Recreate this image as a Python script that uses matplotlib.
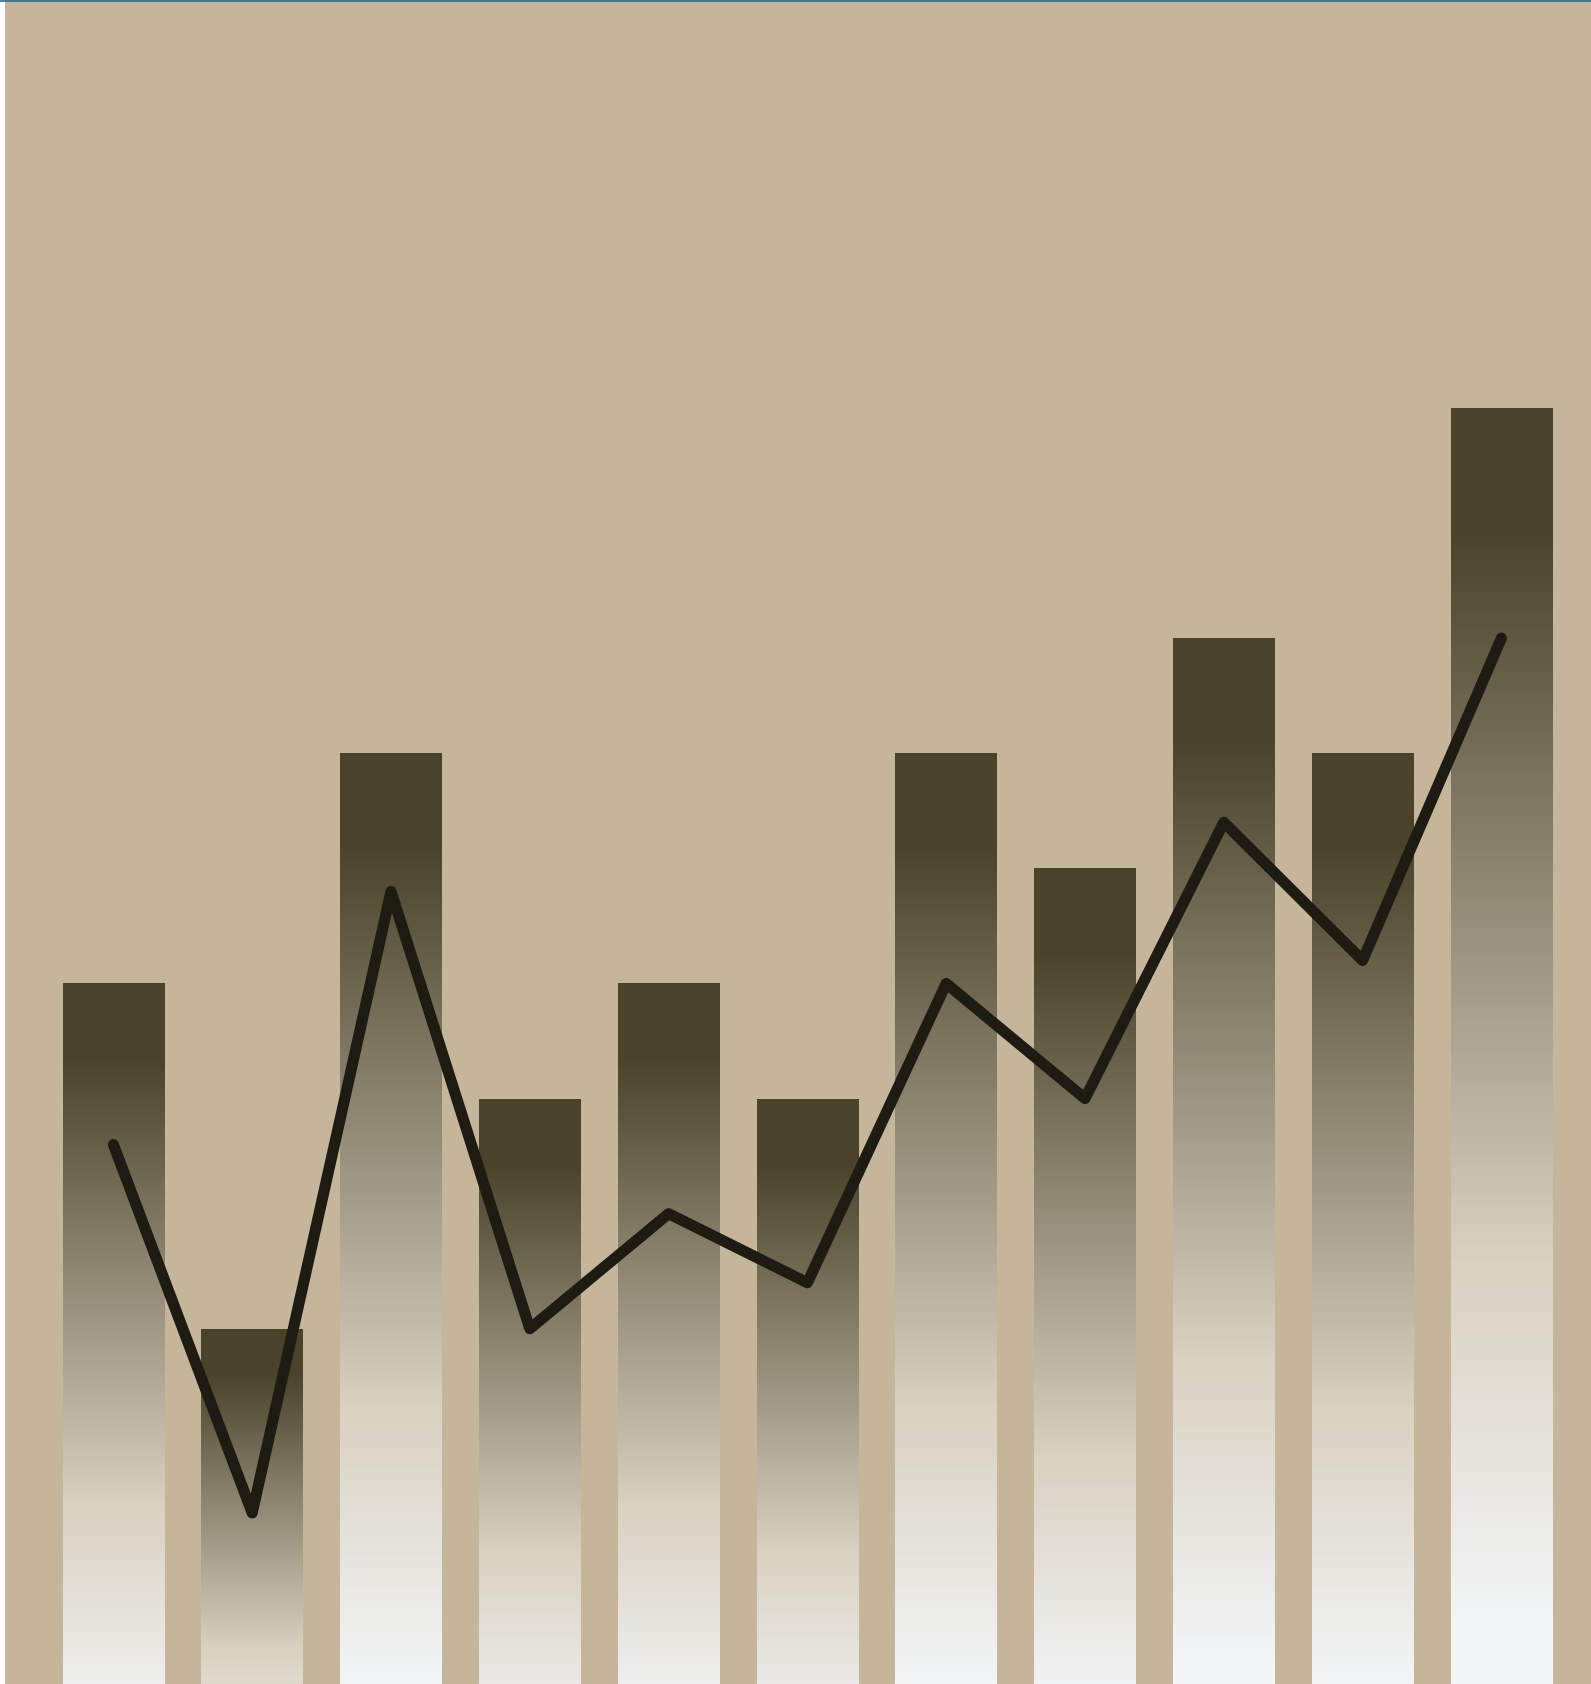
import numpy as np
import matplotlib
matplotlib.use("Agg")
import matplotlib.pyplot as plt
from matplotlib.colors import LinearSegmentedColormap
from matplotlib.patches import Rectangle
from matplotlib.lines import Line2D

# ---- data ----
categories = ["1", "2", "3", "4", "5", "6", "7", "8", "9", "10", "11"]
bar_values = [39, 24, 49, 34, 39, 34, 49, 44, 54, 49, 64]
line_values = [32, 16, 43, 24, 29, 26, 39, 34, 46, 40, 54]

# ---- style ----
BG = "#C4B59B"
LINE = "#1E1C12"
grad_stops = [(0.0, "#4A432A"), (0.08, "#4A432A"), (0.58, "#D9D1C1"),
              (0.82, "#F2F4F6"), (1.0, "#F5F7FA")]
cmap = LinearSegmentedColormap.from_list("bargrad", grad_stops)

W, H, DPI = 1591, 1684, 100
fig = plt.figure(figsize=(W / DPI, H / DPI), dpi=DPI)
fig.patch.set_facecolor(BG)

left_px, right_px = 44.0, 1570.8
ax = fig.add_axes([left_px / W, 0, (right_px - left_px) / W, 1])
ax.set_facecolor("none")
ax.axis("off")

x = np.arange(len(categories))
bars = ax.bar(x, bar_values, width=0.731, facecolor="none", edgecolor="none")

grad = np.linspace(0, 1, 1024).reshape(-1, 1)
for b in bars:
    bx, bw, bh = b.get_x(), b.get_width(), b.get_height()
    im = ax.imshow(grad, cmap=cmap, extent=[bx, bx + bw, 0, bh], origin="upper",
                   aspect="auto", interpolation="bilinear", zorder=2)
    im.set_clip_path(b)

ax.plot(x, line_values, color=LINE, lw=8.0, solid_joinstyle="round",
        solid_capstyle="round", zorder=5)

ax.set_xlim(-0.5, len(categories) - 0.5)
ax.set_ylim(8.57, 81.72)

# left white strip and top thin line
fig.add_artist(Rectangle((0, 0), 5 / W, 1, transform=fig.transFigure,
                         facecolor="white", edgecolor="none", zorder=10))
fig.add_artist(Line2D([0, 1], [1 - 0.7 / H, 1 - 0.7 / H], transform=fig.transFigure,
                      color="#2A6B8C", lw=1.2, zorder=11))

fig.savefig("out.png", dpi=DPI, facecolor=BG)
